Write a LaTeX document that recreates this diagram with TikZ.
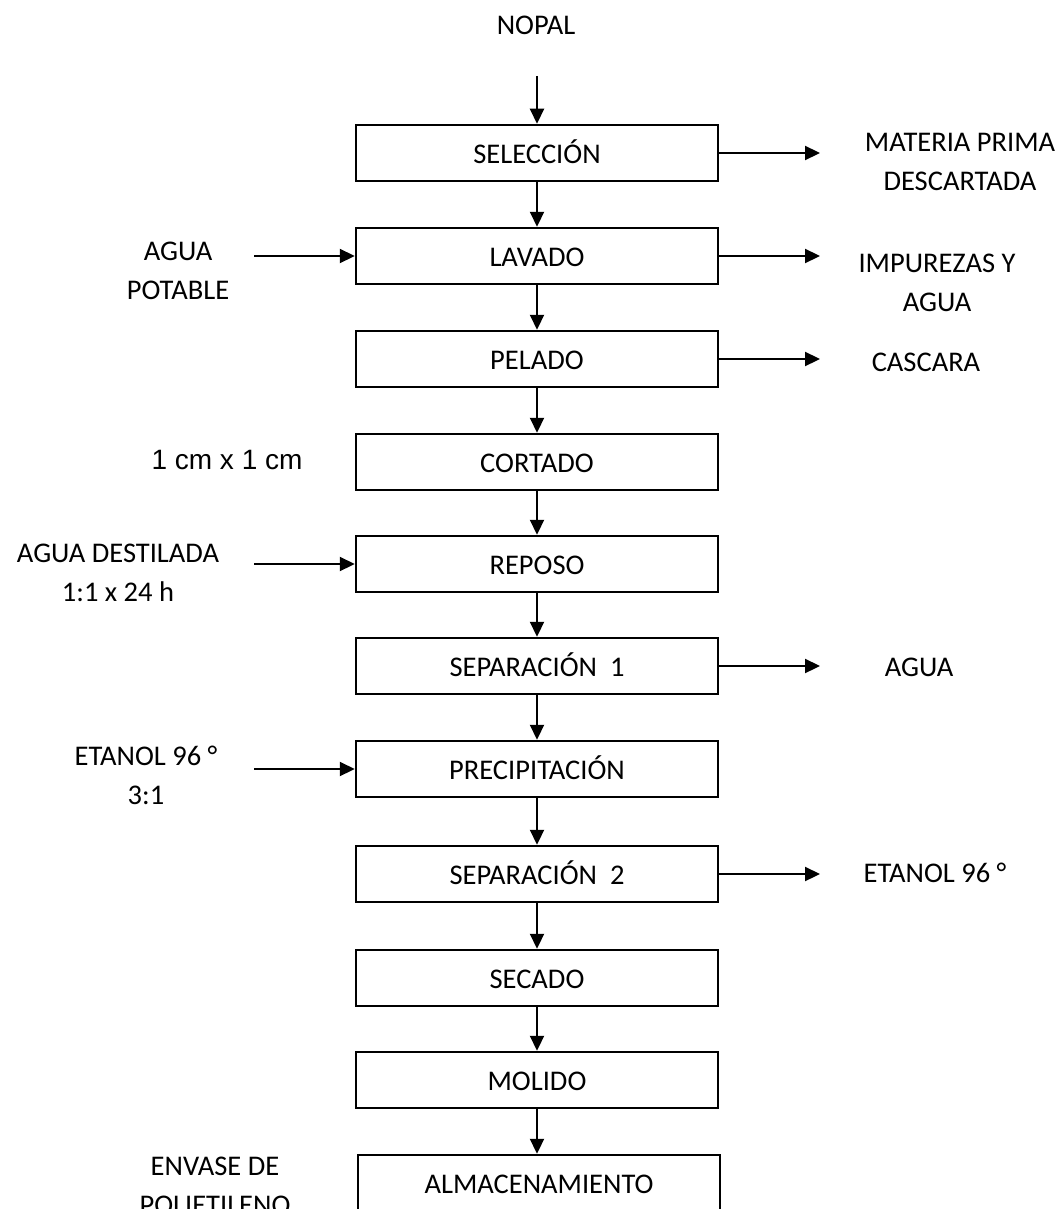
\documentclass[tikz,border=0pt]{standalone}
\usepackage{fontspec}
\setmainfont{Carlito}
\newfontfamily\arialfont{Liberation Sans}
\usetikzlibrary{arrows.meta}
\begin{document}
\begin{tikzpicture}[x=1pt,y=-1pt,
  every node/.style={font=\fontsize{28.5}{39}\selectfont, inner sep=0pt},
  stepbox/.style={draw, line width=2.5pt, minimum width=362pt, minimum height=56pt,
    text height=20.5pt, text depth=-2pt},
  lbl/.style={align=center},
  flow/.style={line width=2.2pt, -{Triangle[length=15pt,width=14pt]}}]
\useasboundingbox (0,0) rectangle (1064,1209);
% process boxes
\node[stepbox] (sel)  at (537,153)  {SELECCIÓN};
\node[stepbox] (lav)  at (537,256)  {LAVADO};
\node[stepbox] (pel)  at (537,359)  {PELADO};
\node[stepbox] (cor)  at (537,462)  {CORTADO};
\node[stepbox] (rep)  at (537,564)  {REPOSO};
\node[stepbox] (sep1) at (537,666)  {SEPARACIÓN~~1};
\node[stepbox] (pre)  at (537,769)  {PRECIPITACIÓN};
\node[stepbox] (sep2) at (537,874)  {SEPARACIÓN~~2};
\node[stepbox] (sec)  at (537,978)  {SECADO};
\node[stepbox] (mol)  at (537,1080) {MOLIDO};
\node[stepbox] (alm)  at (539,1183) {ALMACENAMIENTO};
% labels
\node[lbl] (nopal) at (536,25) {NOPAL};
\node[lbl] (mp)   at (960,162) {MATERIA PRIMA\\DESCARTADA};
\node[lbl] (imp)  at (937,283) {IMPUREZAS Y\\AGUA};
\node[lbl] (cas)  at (926,362) {CASCARA};
\node[lbl] (agr)  at (919,667) {AGUA};
\node[lbl] (etr)  at (935,873) {ETANOL 96 °};
\node[lbl] (agp)  at (178,271) {AGUA\\POTABLE};
\node[lbl, font=\arialfont\fontsize{28}{39}\selectfont] (cm) at (227,460) {1 cm x 1 cm};
\node[lbl] (agd)  at (118,573) {AGUA DESTILADA\\1:1 x 24 h};
\node[lbl] (etl)  at (146,775) {ETANOL 96 °\\3:1};
\node[lbl] (env)  at (215,1186) {ENVASE DE\\POLIETILENO};
% free ends
\coordinate (in0) at (537,76);
\coordinate (inlav) at (254,256);
\coordinate (inrep) at (254,564);
\coordinate (inpre) at (254,769);
\coordinate (osel) at (820,153);
\coordinate (olav) at (820,256);
\coordinate (opel) at (820,359);
\coordinate (osep1) at (820,666);
\coordinate (osep2) at (820,874);
% main flow
\draw[flow] (in0) -- (sel.north);
\draw[flow] (sel) -- (lav);
\draw[flow] (lav) -- (pel);
\draw[flow] (pel) -- (cor);
\draw[flow] (cor) -- (rep);
\draw[flow] (rep) -- (sep1);
\draw[flow] (sep1) -- (pre);
\draw[flow] (pre) -- (sep2);
\draw[flow] (sep2) -- (sec);
\draw[flow] (sec) -- (mol);
\draw[flow] (mol.south) -- (mol.south |- alm.north);
% inputs
\draw[flow] (inlav) -- (lav.west);
\draw[flow] (inrep) -- (rep.west);
\draw[flow] (inpre) -- (pre.west);
% outputs
\draw[flow] (sel.east) -- (osel);
\draw[flow] (lav.east) -- (olav);
\draw[flow] (pel.east) -- (opel);
\draw[flow] (sep1.east) -- (osep1);
\draw[flow] (sep2.east) -- (osep2);
\end{tikzpicture}
\end{document}
